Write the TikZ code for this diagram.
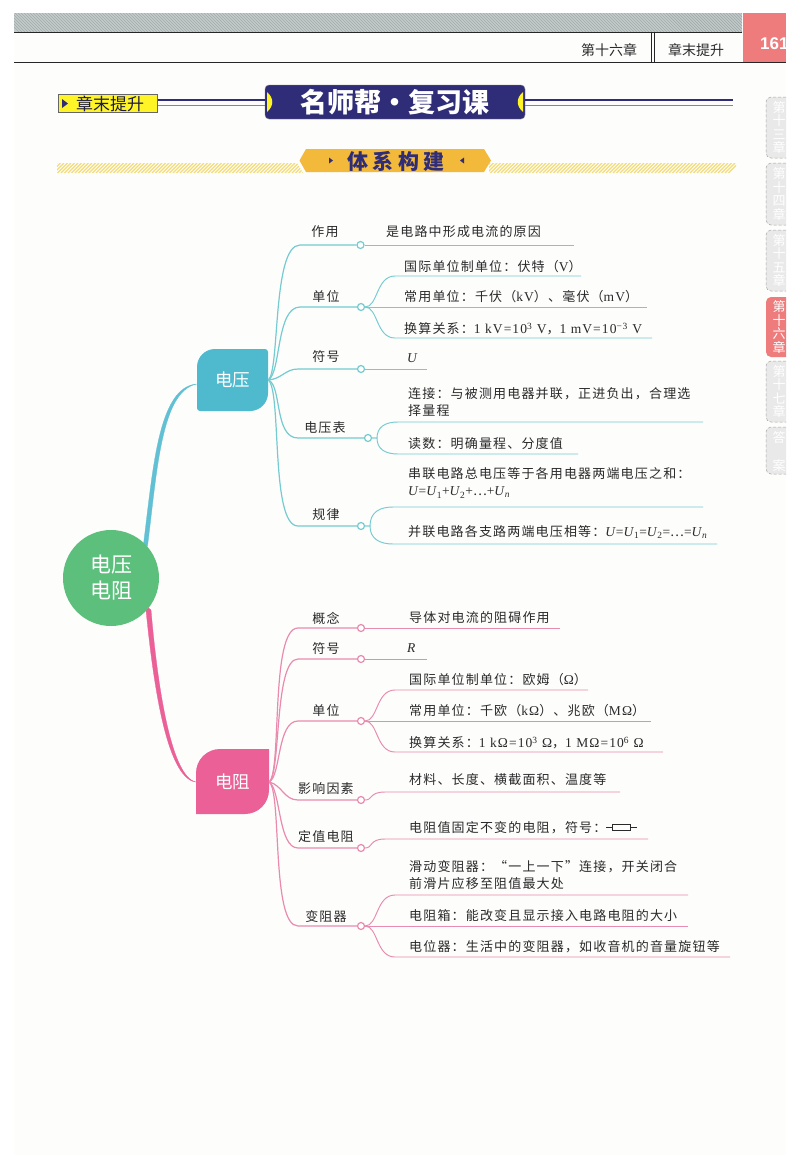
\documentclass[tikz,border=0pt]{standalone}
\usepackage[no-math]{fontspec}
\setmainfont{Noto Sans CJK SC}[LetterSpace=9]
\newfontfamily\plaincjk{Noto Sans CJK SC}
\newfontfamily\numfont{Liberation Sans}
\newfontfamily\latinf{Liberation Serif}[Scale=1.04,LetterSpace=8]
\newfontfamily\eqf{Liberation Serif}[Scale=1.04]
\newcommand{\lat}[1]{{\latinf #1}}
\newcommand{\eqU}[1]{\textit{U}\textsubscript{#1}}
\newcommand{\eqdots}{{\plaincjk ⋯}}
\usetikzlibrary{shapes.geometric}
\definecolor{pagebg}{HTML}{FDFDFC}
\definecolor{bandgray}{HTML}{C3CACA}
\definecolor{bandline}{HTML}{A1ABAB}
\definecolor{pagered}{HTML}{EE7C7C}
\definecolor{navy}{HTML}{302D78}
\definecolor{gold}{HTML}{F2B93B}
\definecolor{hatchyellow}{HTML}{F3DC78}
\definecolor{tabgray}{HTML}{E9E9E9}
\definecolor{rootgreen}{HTML}{5CBF7C}
\definecolor{voltfill}{HTML}{4FB9CE}
\definecolor{voltline}{HTML}{74CBD0}
\definecolor{resfill}{HTML}{EB6097}
\definecolor{resline}{HTML}{E98BAE}
\definecolor{inktext}{HTML}{2A2A2A}
\tikzset{
  body/.style={anchor=west,inner sep=0pt,text=inktext,font=\fontsize{13}{17}\selectfont,align=left},
  topic/.style={inner sep=0pt,text=inktext,font=\fontsize{13}{17}\selectfont},
  branch/.style={inner sep=0pt,text=white,font=\fontsize{17.5}{20}\plaincjk\selectfont,minimum width=71pt,minimum height=62pt},
  vline/.style={draw=voltline,line width=1.2pt},
  rline/.style={draw=resline,line width=1.2pt},
  vleaf/.style={draw=voltline,line width=.95pt},
  rleaf/.style={draw=resline,line width=.95pt},
  vring/.style={circle,draw=voltline,fill=white,line width=1.2pt,minimum size=7pt,inner sep=0pt},
  rring/.style={circle,draw=resline,fill=white,line width=1.2pt,minimum size=7pt,inner sep=0pt},
  sidetab/.style={draw=gray!70,densely dashed,line width=.5pt,fill=tabgray,rounded corners=5pt},
  tabtext/.style={inner sep=0pt,text=white,align=center,font=\fontsize{13}{13.6}\plaincjk\selectfont},
}
\begin{document}
\begin{tikzpicture}[x=1pt,y=-1pt]
\useasboundingbox (0,0) rectangle (800,1165);
\fill[white] (0,0) rectangle (800,1165);
\fill[pagebg] (14,13) rectangle (786,1155);
% page head
\fill[bandgray] (14,13) rectangle (742,32);
\begin{scope}
  \clip (14,13) rectangle (742,32);
  \foreach \x in {0,3,...,750} \draw[bandline,line width=.7pt] (\x,13) -- (\x+19,32);
\end{scope}
\draw[black!85,line width=.9pt] (14,32.5) -- (742,32.5);
\draw[black!85,line width=.9pt] (14,62.5) -- (786,62.5);
\draw[black!85,line width=.6pt] (651.5,32.5) -- (651.5,62) (654,32.5) -- (654,62);
\fill[pagered] (742.5,13) rectangle (786,62);
\node[inner sep=0pt,text=inktext,font=\fontsize{14}{16}\plaincjk\selectfont] (chapter) at (609,50) {第十六章};
\node[inner sep=0pt,text=inktext,font=\fontsize{14}{16}\plaincjk\selectfont] (summary) at (696,50) {章末提升};
\begin{scope}
  \clip (742,13) rectangle (786,62);
  \node[anchor=west,inner sep=0pt,text=white,font=\fontsize{17}{20}\numfont\bfseries] (pageno) at (760,44) {161};
\end{scope}
% section title
\node[rectangle,draw=gray!80!black,fill=yellow!85!white,minimum width=99pt,minimum height=18pt,inner sep=0pt] (tag) at (108,103.5) {};
\fill[navy] (62,99) -- (68,103.5) -- (62,108) -- cycle;
\node[anchor=west,inner sep=0pt,text=navy!60!black,font=\fontsize{17}{19}\plaincjk\selectfont] (tagtext) at (76,104) {章末提升};
\node[rectangle,rounded corners=4pt,draw=gray,fill=navy,minimum width=260pt,minimum height=34pt,inner sep=0pt] (title) at (395,102) {};
\node[inner sep=0pt,text=white,font=\fontsize{27}{30}\plaincjk\bfseries] (titletext) at (395,102) {名师帮·复习课};
\fill[yellow!85!white] (267,92) .. controls (274,98) and (274,106) .. (267,112) -- cycle;
\fill[yellow!85!white] (523,92) .. controls (516,98) and (516,106) .. (523,112) -- cycle;
\draw[navy,line width=2.6pt] (tag.east |- 0,100) -- (title.west |- 0,100);
\draw[navy!60,line width=1pt] (tag.east |- 0,105) -- (title.west |- 0,105);
\draw[navy,line width=2.6pt] (title.east |- 0,100) -- (733,100);
\draw[navy!60,line width=1pt] (title.east |- 0,105) -- (733,105);
% framework banner
\begin{scope}
  \clip (57,163) -- (297,163) -- (303,173) -- (57,173) -- cycle;
  \foreach \x in {40,43.5,...,305} \draw[hatchyellow,line width=1.2pt] (\x,173) -- (\x+10,163);
\end{scope}
\begin{scope}
  \clip (489,163) -- (736,163) -- (736,173) -- (489,173) -- cycle;
  \foreach \x in {480,483.5,...,730} \draw[hatchyellow,line width=1.2pt] (\x,173) -- (\x+10,163);
\end{scope}
\fill[gold] (299.5,160.5) -- (306,149) -- (484,149) -- (491,160.5) -- (484,172) -- (306,172) -- cycle;
\node[inner sep=0pt,text=navy,font=\fontsize{21}{23}\plaincjk\bfseries] (framework) at (396,161) {体\hspace{4.5pt}系\hspace{4.5pt}构\hspace{4.5pt}建};
\fill[navy] (329,157.5) -- (333,160.5) -- (329,163.5) -- cycle;
\fill[navy] (464,157.5) -- (460,160.5) -- (464,163.5) -- cycle;
% side tabs
\draw[sidetab] (786,97) -- (766,97) -- (766,158) -- (786,158);
\draw[sidetab] (786,163) -- (766,163) -- (766,225) -- (786,225);
\draw[sidetab] (786,230) -- (766,230) -- (766,291) -- (786,291);
\fill[pagered,rounded corners=5pt] (786,297) -- (766,297) -- (766,357) -- (786,357);
\draw[sidetab] (786,361) -- (766,361) -- (766,422) -- (786,422);
\draw[sidetab] (786,427) -- (766,427) -- (766,474) -- (786,474);
\node[tabtext] (tab13) at (779,127.5) {第\\十\\三\\章};
\node[tabtext] (tab14) at (779,194) {第\\十\\四\\章};
\node[tabtext] (tab15) at (779,260.5) {第\\十\\五\\章};
\node[tabtext] (tab16) at (779,327) {第\\十\\六\\章};
\node[tabtext] (tab17) at (779,391.5) {第\\十\\七\\章};
\node[tabtext,font=\fontsize{13}{28}\plaincjk\selectfont] (tabans) at (779,452) {答\\案};
% leaf fills
\fill[voltfill] (197,380) [rounded corners=18pt] -- (197,349) [rounded corners=3pt] -- (268,349) [rounded corners=18pt] -- (268,411) [rounded corners=3pt] -- (197,411) [sharp corners] -- cycle;
\fill[resfill] (196,782) [rounded corners=24pt] -- (196,749) [sharp corners] -- (269,749) [rounded corners=24pt] -- (269,814) [sharp corners] -- (196,814) -- cycle;
% nodes
\node[branch] (dy) at (232.5,380) {电压};
\node[branch,minimum width=73pt] (dz) at (232.5,782) {电阻};
\coordinate (rootc) at (111,578);
\draw[voltfill!90!white,fill=voltfill!90!white,line width=.3pt] (rootc) -- (143.5,544) .. controls (153,470) and (158,387) .. ([yshift=-4pt]dy.west) .. controls (161,391) and (157,472) .. (147.5,546) -- cycle;
\draw[resfill,fill=resfill,line width=.3pt] (rootc) -- (146,610) .. controls (153,680) and (166,778) .. (dz.west) .. controls (170,776) and (157,680) .. (151,610) -- cycle;
\node[circle,fill=rootgreen,minimum size=96pt,inner sep=0pt,text=white,align=center,font=\fontsize{21}{26}\plaincjk\selectfont] (root) at (rootc) {电压\\电阻};
% voltage
\node[vring] (vr1) at (360.5,245) {};
\node[vring] (vr2) at (361,307) {};
\node[vring] (vr3) at (361,369) {};
\node[vring] (vr4) at (368,438) {};
\node[vring] (vr5) at (361,526) {};
\node[topic] (vt1) at (325,232) {作用};
\node[topic] (vt2) at (326,297) {单位};
\node[topic] (vt3) at (326,357) {符号};
\node[topic] (vt4) at (325,428) {电压表};
\node[topic] (vt5) at (326,515) {规律};
\draw[vline] (dy.east) .. controls (280,372) and (272,245) .. (300,245) -- (vr1);
\draw[vline] (dy.east) .. controls (281,374) and (276,307) .. (300,307) -- (vr2);
\draw[vline] (dy.east) .. controls (282,379) and (285,369) .. (298,369) -- (vr3);
\draw[vline] (dy.east) .. controls (282,385) and (274,438) .. (298,438) -- (vr4);
\draw[vline] (dy.east) .. controls (282,390) and (270,526) .. (298,526) -- (vr5);
\coordinate (ve1) at (574,245);
\coordinate (ve2a) at (581,276);
\coordinate (ve2b) at (647,307);
\coordinate (ve2c) at (652,338);
\coordinate (ve3) at (427,369);
\coordinate (ve4a) at (703,422);
\coordinate (ve4b) at (578,454);
\coordinate (ve5a) at (703,507);
\coordinate (ve5b) at (717,544);
\draw[vleaf] (vr1) -- (ve1);
\draw[vleaf] (vr2) .. controls (378,307) and (376,276) .. (395,276) -- (ve2a);
\draw[vleaf] (vr2) -- (ve2b);
\draw[vleaf] (vr2) .. controls (378,307) and (376,338) .. (395,338) -- (ve2c);
\draw[vleaf] (vr3) -- (ve3);
\draw[vleaf] (vr4) -- (377,438) .. controls (377,427) and (385,422) .. (398,422) -- (ve4a);
\draw[vleaf] (vr4) -- (377,438) .. controls (377,449) and (385,454) .. (398,454) -- (ve4b);
\draw[vleaf] (vr5) -- (370,526) .. controls (370,512) and (380,507) .. (393,507) -- (ve5a);
\draw[vleaf] (vr5) -- (370,526) .. controls (370,539) and (380,544) .. (393,544) -- (ve5b);
\node[body] (vb1) at (386,232) {是电路中形成电流的原因};
\node[body] (vb2a) at (404,267) {国际单位制单位：伏特（\lat{V}）};
\node[body] (vb2b) at (404,297) {常用单位：千伏（\lat{kV}）、毫伏（\lat{mV}）};
\node[body] (vb2c) at (404,329) {换算关系：\lat{1 kV=10\textsuperscript{3} V}，\lat{1 mV=10\textsuperscript{−3} V}};
\node[body] (vb3) at (407,358) {{\eqf\textit{U}}};
\node[body] (vb4a) at (408,402) {连接：与被测用电器并联，正进负出，合理选\\择量程};
\node[body] (vb4b) at (408,444) {读数：明确量程、分度值};
\node[body] (vb5a) at (408,483) {串联电路总电压等于各用电器两端电压之和：\\{\eqf\textit{U}=\eqU{1}+\eqU{2}+\eqdots+\eqU{\textit{n}}}};
\node[body] (vb5b) at (408,532) {并联电路各支路两端电压相等：{\eqf\textit{U}=\eqU{1}=\eqU{2}=\eqdots=\eqU{\textit{n}}}};
% resistance
\node[rring] (rr1) at (361,628) {};
\node[rring] (rr2) at (361,659) {};
\node[rring] (rr3) at (361,721) {};
\node[rring] (rr4) at (361,800) {};
\node[rring] (rr5) at (361,848) {};
\node[rring] (rr6) at (361,926) {};
\node[topic] (rt1) at (326,618) {概念};
\node[topic] (rt2) at (326,649) {符号};
\node[topic] (rt3) at (326,710) {单位};
\node[topic] (rt4) at (326,789) {影响因素};
\node[topic] (rt5) at (326,837) {定值电阻};
\node[topic] (rt6) at (326,917) {变阻器};
\draw[rline] (dz.east) .. controls (282,772) and (270,628) .. (298,628) -- (rr1);
\draw[rline] (dz.east) .. controls (281,774) and (274,659) .. (298,659) -- (rr2);
\draw[rline] (dz.east) .. controls (281,776) and (277,721) .. (298,721) -- (rr3);
\draw[rline] (dz.east) .. controls (282,785) and (284,800) .. (298,800) -- (rr4);
\draw[rline] (dz.east) .. controls (281,790) and (278,848) .. (298,848) -- (rr5);
\draw[rline] (dz.east) .. controls (282,792) and (271,926) .. (298,926) -- (rr6);
\coordinate (re1) at (560,628);
\coordinate (re2) at (427,659);
\coordinate (re3a) at (588,690);
\coordinate (re3b) at (651,721);
\coordinate (re3c) at (663,752);
\coordinate (re4) at (620,792);
\coordinate (re5) at (648,839);
\coordinate (re6a) at (688,895);
\coordinate (re6b) at (688,926);
\coordinate (re6c) at (730,957);
\draw[rleaf] (rr1) -- (re1);
\draw[rleaf] (rr2) -- (re2);
\draw[rleaf] (rr3) .. controls (378,721) and (376,690) .. (395,690) -- (re3a);
\draw[rleaf] (rr3) -- (re3b);
\draw[rleaf] (rr3) .. controls (378,721) and (376,752) .. (395,752) -- (re3c);
\draw[rleaf] (rr4) .. controls (373,800) and (369,792) .. (385,792) -- (re4);
\draw[rleaf] (rr5) .. controls (373,848) and (369,839) .. (385,839) -- (re5);
\draw[rleaf] (rr6) .. controls (378,926) and (376,895) .. (395,895) -- (re6a);
\draw[rleaf] (rr6) -- (re6b);
\draw[rleaf] (rr6) .. controls (378,926) and (376,957) .. (395,957) -- (re6c);
\node[body] (rb1) at (409,618) {导体对电流的阻碍作用};
\node[body] (rb2) at (407,648) {{\eqf\textit{R}}};
\node[body] (rb3a) at (409,680) {国际单位制单位：欧姆（\lat{Ω}）};
\node[body] (rb3b) at (409,711) {常用单位：千欧（\lat{kΩ}）、兆欧（\lat{MΩ}）};
\node[body] (rb3c) at (409,743) {换算关系：\lat{1 kΩ=10\textsuperscript{3} Ω}，\lat{1 MΩ=10\textsuperscript{6} Ω}};
\node[body] (rb4) at (409,780) {材料、长度、横截面积、温度等};
\node[body] (rb5) at (409,828) {电阻值固定不变的电阻，符号：};
\node[body] (rb6a) at (409,875.5) {滑动变阻器：“一上一下”连接，开关闭合\\前滑片应移至阻值最大处};
\node[body] (rb6b) at (409,916) {电阻箱：能改变且显示接入电路电阻的大小};
\node[body] (rb6c) at (409,947) {电位器：生活中的变阻器，如收音机的音量旋钮等};
% resistor symbol
\node[rectangle,draw=inktext,line width=.9pt,minimum width=18pt,minimum height=6.5pt,inner sep=0pt] (resbox) at (621,827.5) {};
\draw[inktext,line width=.9pt] (606,827.5) -- (resbox.west);
\draw[inktext,line width=.9pt] (resbox.east) -- (637,827.5);
\end{tikzpicture}
\end{document}
